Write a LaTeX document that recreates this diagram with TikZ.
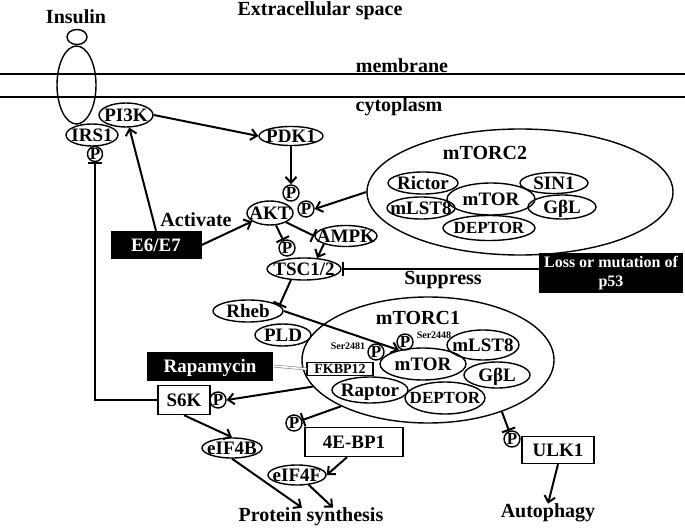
\documentclass[tikz,border=0pt]{standalone}
\usepackage{fontspec}
\setmainfont{Liberation Serif}
\usepackage{tikz}
\usetikzlibrary{shapes.geometric, arrows.meta, positioning, calc}
\newcommand{\inlbl}[1]{\makebox[0pt]{\raisebox{-0.33em}[0pt][0pt]{#1}}}

\begin{document}
\begin{tikzpicture}[x=1pt, y=-1pt,
    every node/.style={font=\fontsize{20}{22}\selectfont\bfseries},
    mol/.style={draw, ellipse, line width=1.4pt, inner sep=0pt, font=\fontsize{19}{21}\selectfont\bfseries},
    phos/.style={draw, circle, line width=1.4pt, inner sep=0pt, minimum size=16pt, font=\fontsize{17}{17}\selectfont\bfseries},
    rbox/.style={draw, line width=1.4pt, inner sep=0pt, font=\fontsize{19}{21}\selectfont\bfseries},
    blk/.style={fill=black, text=white, inner sep=0pt, font=\fontsize{19}{21}\selectfont\bfseries},
    sertxt/.style={inner sep=0pt, font=\fontsize{10}{10}\selectfont\bfseries},
    act/.style={line width=2pt, -{Straight Barb[length=6pt, width=11pt]}},
    inh/.style={line width=2pt, -{Bar[width=14pt]}},
]
    \useasboundingbox (0,0) rectangle (685,529);

    % membrane
    \draw[line width=2pt] (0,74) -- (685,74);
    \draw[line width=2pt] (0,97) -- (685,97);
    \node[inner sep=0pt] (extra) at (320,11) {Extracellular space};
    \node (memb) at (402,66) {membrane};
    \node (cyto) at (399,107) {cytoplasm};

    % insulin receptor
    \node (insulin) at (76,17) {Insulin};
    \node[mol, minimum width=20pt, minimum height=15pt] (head) at (77,37) {};
    \node[mol, minimum width=39pt, minimum height=78pt] (recp) at (76.5,85) {};

    \node[mol, minimum width=54pt, minimum height=24pt] (pi3k) at (126,115) {\inlbl{PI3K}};
    \node[mol, minimum width=52pt, minimum height=22pt] (irs1) at (92,135) {\inlbl{IRS1}};
    \node[phos, minimum size=15pt] (pI) at (95,154) {\inlbl{P}};
    \node[mol, minimum width=64pt, minimum height=19pt] (pdk1) at (291,136) {\inlbl{PDK1}};
    \node[phos] (pA1) at (291,193) {\inlbl{P}};
    \node[phos] (pA2) at (306,209) {\inlbl{P}};
    \node[mol, minimum width=46pt, minimum height=24pt] (akt) at (270,213) {\inlbl{AKT}};
    \node[phos] (pT) at (287,248) {\inlbl{P}};
    \node[mol, minimum width=62pt, minimum height=21pt] (ampk) at (346,236) {\inlbl{AMPK}};
    \node[mol, minimum width=74pt, minimum height=22pt] (tsc) at (304,269) {\inlbl{TSC1/2}};

    % mTORC2
    \node[mol, minimum width=306pt, minimum height=126pt] (mtorc2) at (520,192) {};
    \node (mtorc2lbl) at (485,153) {mTORC2};
    \node[mol, minimum width=70pt, minimum height=22pt] (rictor) at (423,183) {\inlbl{Rictor}};
    \node[mol, minimum width=68pt, minimum height=21pt] (sin1) at (554,183) {\inlbl{SIN1}};
    \node[mol, minimum width=88pt, minimum height=32pt] (mtor2) at (491,199) {\inlbl{mTOR}};
    \node[mol, minimum width=68pt, minimum height=22pt] (mlst2) at (421,208) {\inlbl{mLST8}};
    \node[mol, minimum width=68pt, minimum height=24pt] (gbl2) at (562,207) {\inlbl{GβL}};
    \node[mol, minimum width=92pt, minimum height=25pt, font=\fontsize{17}{19}\selectfont\bfseries] (deptor2) at (489,228) {\inlbl{DEPTOR}};

    \node[blk, minimum width=91pt, minimum height=28pt] (e6) at (156,245) {\inlbl{E6/E7}};
    \node (activate) at (196,220) {Activate};
    \node[blk, minimum width=144pt, minimum height=40pt, align=center, font=\fontsize{16}{19}\selectfont\bfseries] (loss) at (611,273) {Loss or mutation of\\p53};
    \node (suppress) at (443,280) {Suppress};

    \node[mol, minimum width=70pt, minimum height=22pt] (rheb) at (248,311) {\inlbl{Rheb}};
    \node[mol, minimum width=56pt, minimum height=22pt] (pld) at (283,335) {\inlbl{PLD}};

    % mTORC1
    \node[mol, minimum width=252pt, minimum height=126pt] (mtorc1) at (428,360) {};
    \node[inner sep=0pt] (mtorc1lbl) at (418,318) {mTORC1};
    \node[mol, minimum width=86pt, minimum height=32pt] (mtor1) at (423,364) {\inlbl{mTOR}};
    \node[mol, minimum width=72pt, minimum height=30pt] (mlst1) at (483,345) {\inlbl{mLST8}};
    \node[mol, minimum width=66pt, minimum height=26pt] (gbl1) at (497,375) {\inlbl{GβL}};
    \node[mol, minimum width=76pt, minimum height=26pt] (raptor) at (370,390) {\inlbl{Raptor}};
    \node[mol, minimum width=80pt, minimum height=32pt, font=\fontsize{17}{19}\selectfont\bfseries] (deptor1) at (445,398) {\inlbl{DEPTOR}};
    \node[phos] (p2481) at (376,352) {\inlbl{P}};
    \node[phos] (p2448) at (405,342) {\inlbl{P}};
    \node[sertxt] (s2481) at (348,346) {Ser2481};
    \node[sertxt] (s2448) at (434,335) {Ser2448};
    \node[rbox, minimum width=66pt, minimum height=13pt, font=\fontsize{14}{14}\selectfont\bfseries] (fkbp) at (340,369) {\inlbl{FKBP12}};
    \node[blk, minimum width=126pt, minimum height=29pt] (rapa) at (210,366) {\inlbl{Rapamycin}};

    % downstream
    \node[rbox, minimum width=52pt, minimum height=29pt] (s6k) at (184,400) {\inlbl{S6K}};
    \node[phos] (pS) at (218,400) {\inlbl{P}};
    \node[phos] (pE) at (294,423) {\inlbl{P}};
    \node[rbox, minimum width=98pt, minimum height=29pt] (ebp) at (354,442) {\inlbl{4E-BP1}};
    \node[phos] (pU) at (512,439) {\inlbl{P}};
    \node[rbox, minimum width=72pt, minimum height=27pt] (ulk) at (558,450) {\inlbl{ULK1}};
    \node[mol, minimum width=60pt, minimum height=20pt] (eif4b) at (232,448) {\inlbl{eIF4B}};
    \node[mol, minimum width=58pt, minimum height=20pt] (eif4f) at (297,475) {\inlbl{eIF4F}};
    \node[inner sep=0pt] (prot) at (311,517) {Protein synthesis};
    \node[inner sep=0pt] (auto) at (548,513) {Autophagy};

    % connectors
    \draw[act] (pi3k.east) -- (pdk1.west);
    \draw[act] (pdk1.south) -- (pA1.north);
    \draw[act] (mtorc2.west) -- (pA2.east);
    \draw[act] (e6.north) -- (pi3k);
    \draw[act] (e6.east) -- (akt);
    \draw[inh] (akt) -- (pT);
    \draw[inh] (akt.-30) -- (ampk.west);
    \draw[act] (ampk.200) -- (tsc.40);
    \draw[inh] (loss.west |- tsc.east) -- (tsc.east);
    \draw[inh] (tsc.220) -- (rheb.10);
    \draw[act] (rheb.east) -- (mtor1.150);
    \draw[gray, double=white, line width=0.6pt, double distance=1.6pt] (rapa.east) -- (fkbp.west);
    \draw[act] (mtorc1.193) -- (pS.east);
    \draw[inh] (mtorc1.208) -- (pE);
    \draw[inh] (mtorc1.325) -- (pU);
    \draw[inh] (s6k.west) -| (pI.south);
    \draw[act] (s6k.south) -- (eif4b.north);
    \draw[act] ([xshift=-7pt]ebp.south) -- (eif4f.east);
    \draw[act] (eif4b.south) -- ([xshift=-9pt]prot.north);
    \draw[act] (eif4f.-40) -- ([xshift=22pt]prot.north);
    \draw[act] (ulk.south) -- (auto.north);
\end{tikzpicture}
\end{document}
